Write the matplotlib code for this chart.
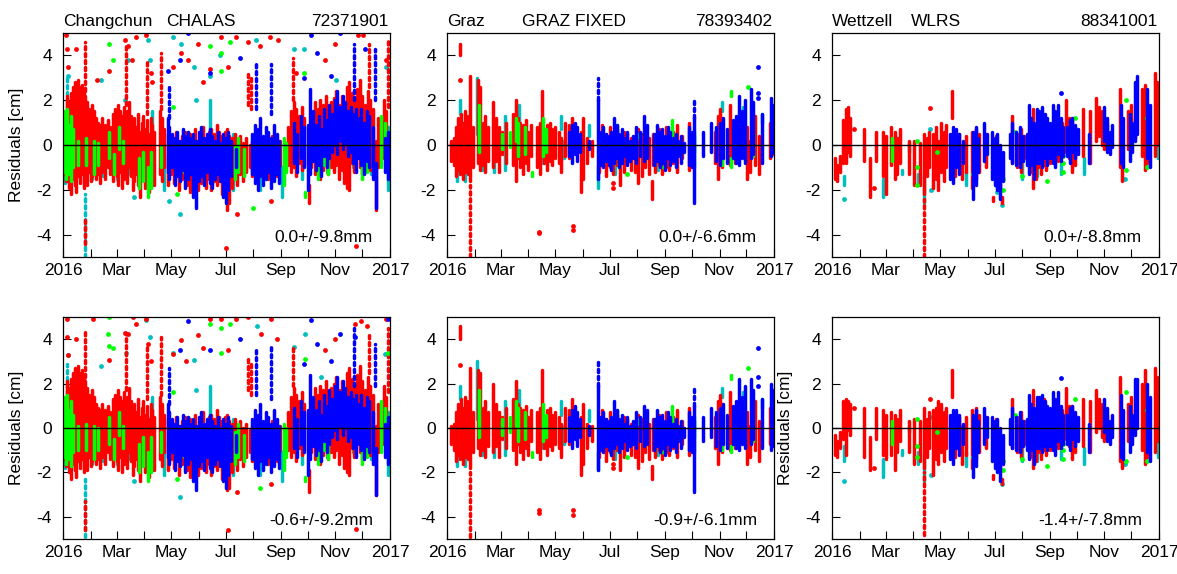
import matplotlib
matplotlib.use('Agg')
import matplotlib.pyplot as plt
from matplotlib.collections import LineCollection

plt.rcParams['font.family'] = ['Liberation Sans', 'DejaVu Sans']
plt.rcParams['axes.unicode_minus'] = False

# ---------------------------------------------------------------- labels
month_days = [0, 31, 60, 91, 121, 152, 182, 213, 244, 274, 305, 335, 366]
month_labels = ['2016', '', 'Mar', '', 'May', '', 'Jul', '', 'Sep', '', 'Nov', '', '2017']
y_ticks = [-4, -2, 0, 2, 4]
station_names = ['Changchun', 'Graz', 'Wettzell']
system_names = ['CHALAS', 'GRAZ FIXED', 'WLRS']
station_ids = ['72371901', '78393402', '88341001']
stats_top = ['0.0+/-9.8mm', '0.0+/-6.6mm', '0.0+/-8.8mm']
stats_bottom = ['-0.6+/-9.2mm', '-0.9+/-6.1mm', '-1.4+/-7.8mm']

# ---------------------------------------------------------------- data
# passes : (day of 2016, lowest residual [cm], highest residual [cm]) - dense passes
# sparse : (day, low, high) - thinly populated vertical streaks of points
# pts    : (day, residual [cm]) - isolated normal points

# ===== Changchun, top
chg_top_red = [(1,-1.3,1.2),(3,-1.6,0.8),(5,-1.2,2.2),(7,-1.9,1.9),(9,-2.2,2.3),(11,-1.5,2.6),(13,-1.8,2.8),(15,-2.1,2.5),(17,-1.4,2.9),(19,-1.7,2.6),(21,-1.3,2.7),(23,-1.9,2.4),(25,-1.5,2.2),(27,-1.8,1.9),(29,-1.2,1.6),(31,-1.6,1.4),(33,-1.4,1.8),(35,-1.1,1.5),(37,-1.5,1.2),(39,-1.3,1.0),(41,-1.7,0.9),(44,-1.2,1.2),(47,-1.5,0.9),(50,-1.0,1.1),(53,-1.3,0.8),(56,-1.6,1.4),(58,-1.1,1.6),(60,-1.4,1.2),(62,-1.8,1.8),(64,-1.2,1.5),(66,-1.9,1.3),(68,-1.5,1.7),(70,-1.3,1.1),(72,-1.7,1.5),(74,-1.0,1.9),(76,-1.4,1.3),(78,-2.0,0.9),(80,-1.6,1.2),(82,-1.3,0.8),(84,-1.8,1.4),(86,-2.3,0.6),(88,-1.5,1.0),(90,-1.2,1.3),(92,-1.9,0.7),(94,-1.4,1.1),(96,-2.1,0.5),(98,-1.6,1.2),(100,-1.2,0.9),(102,-1.8,0.6),(109,-1.3,1.5),(111,-1.6,1.2),(113,-1.0,0.7),(118,-1.8,0.5),(121,-1.3,0.2),(124,-1.7,0.3),(127,-1.2,0.6),(130,-2.0,0.2),(133,-1.5,0.4),(136,-1.3,0.6),(139,-1.8,0.1),(142,-2.1,0.5),(145,-1.6,0.3),(148,-1.4,0.7),(151,-2.0,0.2),(154,-1.7,0.5),(157,-1.3,0.8),(160,-1.9,0.3),(163,-1.5,0.6),(166,-2.0,0.7),(169,-1.6,0.5),(172,-1.8,0.9),(175,-1.4,0.6),(178,-2.2,0.4),(181,-1.7,0.6),(184,-2.9,0.7),(186,-2.6,0.4),(189,-1.9,0.3),(192,-1.5,0.5),(195,-1.8,0.2),(198,-1.3,0.4),(201,-1.6,0.1),(205,-1.2,0.3),(209,-1.0,0.0),(212,-1.4,0.2),(216,-0.8,0.0),(219,-1.3,0.2),(224,-1.0,0.3),(229,-1.5,0.0),(234,-1.2,0.4),(239,-1.4,0.1),(243,-0.9,0.2),(252,-0.9,0.8),(255,-1.2,1.5),(258,-1.0,1.9),(261,-1.4,1.6),(264,-0.8,1.3),(267,-1.1,1.7),(270,-0.9,1.2),(275,-2.6,-1.8),(278,-1.0,1.4),(282,-1.3,1.9),(285,-0.8,1.6),(288,-1.5,2.0),(291,-1.1,1.8),(294,-0.9,2.2),(297,-1.3,1.7),(300,-1.0,1.9),(303,-1.2,2.1),(306,-0.9,2.4),(309,-1.5,1.8),(312,-1.1,2.2),(315,-1.7,1.6),(318,-1.9,2.6),(320,-2.0,2.8),(323,-0.8,2.3),(326,-1.2,2.0),(329,-0.6,2.5),(332,-1.0,2.9),(335,-1.3,2.2),(338,-0.7,1.8),(341,-0.9,2.4),(344,-1.1,2.0),(347,-0.5,1.6),(350,-2.9,0.2),(353,-1.0,1.2),(359,-0.6,2.0),(362,-1.0,1.5)]
chg_top_red_sparse = [(25,2.4,4.6),(25,-4.4,-3.3),(70,1.8,4.4),(94,1.4,3.8),(110,1.6,4.1),(207,1.8,3.3),(210,1.6,3.1),(257,2.0,3.9),(342,2.6,4.5),(364,1.7,4.7)]
chg_top_red_pts = [(3,4.9),(4,4.3),(6,3.5),(15,4.3),(38,2.9),(52,3.3),(69,4.7),(73,4.4),(77,3.8),(82,4.8),(93,4.9),(99,3.2),(100,2.8),(123,3.5),(132,4.1),(140,3.8),(151,4.5),(157,2.8),(164,3.4),(177,4.8),(185,3.5),(194,4.8),(207,4.6),(220,4.4),(232,4.8),(241,4.7),(233,-2.5),(183,-4.6),(195,-3.1),(261,3.2),(293,3.8),(304,4.5),(330,4.9),(336,4.9),(328,-4.5),(362,3.8)]
chg_top_green = [(1,-1.2,1.5),(3,-1.5,1.2),(5,-0.8,1.6),(7,-1.3,0.9),(9,-1.6,1.3),(11,-1.0,0.7),(17,-0.9,0.2),(26,-0.9,0.3),(35,-1.3,0.2),(39,-0.9,0.1),(52,-0.6,0.6),(57,-1.3,-0.4),(63,-0.2,0.8),(67,-0.8,0.2),(85,-1.9,-0.6),(90,-1.6,-0.3),(95,-2.3,-1.0),(99,-1.9,-0.3),(110,-1.0,-0.1),(135,-1.2,-0.3),(176,-1.2,0.0),(192,-1.5,-0.1),(196,-1.2,0.3),(203,-1.4,-0.2),(247,-1.8,0.3),(250,-1.2,0.1),(271,-2.3,-2.1),(285,-1.5,0.2),(292,-0.9,0.5),(297,-1.3,0.0),(335,-1.5,-0.5),(340,-1.2,-0.6),(356,-1.0,1.3),(360,-0.5,1.0),(363,-0.8,0.6)]
chg_top_green_sparse = []
chg_top_green_pts = [(52,4.5),(56,3.8),(187,4.6),(177,4.1),(177,3.3),(164,4.4),(213,-2.8),(270,3.2),(123,1.7),(128,-2.2)]
chg_top_cyan = [(2,-1.7,1.0),(5,-1.6,1.0),(13,-1.8,-0.8),(23,-1.8,0.5),(33,-1.5,-0.5),(45,-1.4,0.0),(60,-1.5,-0.8),(75,-1.3,-0.3),(100,-1.8,1.5),(113,-2.0,-0.5),(140,-1.7,0.6),(165,-1.5,2.0),(190,-2.0,0.5),(220,-2.0,-0.8),(245,-2.3,-1.0),(268,-1.5,0.5),(295,-1.2,0.3),(325,-1.0,1.5),(345,-1.3,0.0),(364,-2.0,0.8)]
chg_top_cyan_sparse = [(5,1.0,3.0),(25,-5.0,-2.2)]
chg_top_cyan_pts = [(6,3.1),(69,2.0),(73,3.8),(95,4.7),(97,3.8),(123,4.8),(132,4.5),(147,3.5),(149,2.0),(164,3.1),(176,4.0),(216,4.7),(259,4.3),(270,4.3),(306,2.9),(362,3.5),(131,-3.1),(119,-2.5),(43,2.9),(80,-2.3)]
chg_top_blue = [(117,-1.2,1.2),(119,-1.5,0.8),(122,-1.0,0.5),(125,-1.8,0.3),(128,-1.4,0.6),(131,-1.6,0.2),(134,-1.1,0.7),(137,-1.9,0.4),(140,-1.5,0.6),(143,-1.3,0.3),(146,-2.3,0.5),(149,-2.8,0.2),(152,-1.6,0.6),(155,-1.4,0.8),(158,-1.8,0.3),(161,-1.2,0.5),(164,-1.7,0.7),(167,-1.9,0.4),(170,-1.5,0.2),(173,-1.3,0.6),(176,-1.6,0.1),(179,-2.3,0.5),(182,-2.6,0.3),(185,-2.0,0.6),(188,-1.4,0.2),(194,-1.0,-0.2),(212,-1.3,0.5),(215,-1.7,0.9),(218,-2.0,0.7),(221,-1.4,1.2),(224,-1.8,0.4),(227,-1.5,0.8),(230,-1.2,0.6),(233,-1.9,0.3),(236,-1.6,0.9),(239,-1.3,0.5),(242,-1.7,0.2),(258,-0.8,1.0),(262,-1.2,0.5),(266,-0.6,1.3),(270,-1.0,0.8),(274,-2.0,0.9),(277,-1.3,2.5),(280,-0.7,1.5),(283,-1.1,0.9),(286,-0.9,1.3),(289,-1.4,0.7),(292,-0.5,1.6),(295,-1.0,1.1),(298,-0.6,1.8),(301,-0.3,1.4),(304,0.0,2.0),(307,-0.4,2.4),(310,0.2,1.7),(313,-0.2,2.2),(316,0.1,1.9),(319,-0.5,1.5),(322,-0.3,1.7),(325,-0.8,1.4),(328,-1.2,1.6),(331,-0.6,1.2),(334,-0.9,1.6),(337,-1.3,1.0),(340,-0.7,1.5),(343,-1.0,1.3),(347,-1.5,0.8),(350,-2.8,-0.8),(360,-1.2,0.3),(364,-1.5,0.6)]
chg_top_blue_sparse = [(119,1.2,2.6),(216,1.6,3.6),(233,1.4,3.6),(326,2.0,4.5),(349,2.0,4.3)]
chg_top_blue_pts = [(118,3.3),(131,3.8),(140,5.0),(164,3.2),(198,3.9),(278,4.9),(284,4.1),(310,5.0),(338,4.3),(300,3.1),(270,3.0)]

# ===== Graz, top
grz_top_red = [(5,-0.7,0.2),(8,-0.9,0.3),(10,-1.4,0.8),(12,-1.1,1.2),(14,-1.3,0.6),(15,4.0,4.5),(16,-1.0,1.4),(18,-1.5,1.0),(20,-1.2,1.5),(22,-0.9,1.3),(24,-1.3,0.9),(26,-1.6,3.1),(29,-1.0,0.8),(35,-0.8,2.9),(37,-1.1,2.6),(40,-0.9,1.0),(43,-1.2,1.3),(46,-0.7,0.8),(52,-1.0,1.9),(55,-0.7,1.2),(58,-1.2,0.8),(62,-0.4,0.6),(66,-0.8,1.0),(74,-0.9,1.4),(77,-1.6,2.0),(79,-0.6,1.2),(82,-1.0,1.0),(85,-1.3,0.9),(88,-0.8,1.1),(91,-1.1,0.6),(94,-0.5,0.9),(101,-1.0,0.8),(104,-1.3,1.0),(106,1.0,2.4),(109,-0.8,0.6),(112,-1.1,0.9),(115,-0.7,1.0),(118,-0.9,0.7),(121,-0.6,0.8),(125,-0.8,0.6),(128,-1.2,0.3),(132,-0.5,1.0),(136,-0.6,0.9),(140,-0.4,1.2),(150,-2.1,0.6),(152,-1.5,1.2),(157,-0.8,0.3),(162,-0.5,0.2),(170,-1.2,0.6),(174,-0.9,0.9),(178,-1.4,0.5),(182,-1.0,0.8),(186,-1.3,0.4),(190,-0.9,0.7),(194,-1.8,0.3),(198,-1.2,0.6),(202,-0.8,0.5),(206,-1.1,0.3),(210,-1.2,0.4),(214,-1.7,0.7),(218,-1.4,0.5),(222,-1.0,0.6),(226,-1.3,0.3),(229,-2.4,-1.6),(231,-0.9,0.5),(233,-1.2,0.5),(237,-0.9,0.7),(241,-1.3,0.4),(245,-1.0,0.8),(249,-1.1,0.3),(253,-0.8,0.6),(257,-1.2,0.9),(263,-0.6,0.4),(271,-1.1,1.0),(274,-0.8,0.5),(300,-0.8,0.6),(303,-1.5,1.3),(305,-0.7,1.6),(308,-1.0,1.2),(317,-0.9,1.8),(322,-0.8,0.5),(327,-0.6,1.2),(336,-1.5,0.8),(339,-1.2,0.2),(345,-0.9,1.3),(349,-1.3,0.4),(362,-0.6,1.0),(364,-0.4,1.5)]
grz_top_red_sparse = [(26,-5.0,-1.8)]
grz_top_red_pts = [(15,2.9),(103,-3.9),(103,-3.95),(141,-3.6),(141,-3.8),(186,-1.7),(186,-1.9)]
grz_top_green = [(36,-0.3,1.8),(61,-0.2,0.5),(70,-0.1,0.6),(77,0.2,1.2),(80,-0.5,1.0),(87,-0.4,0.8),(95,-1.4,-1.2),(108,-0.5,1.2),(111,-0.3,0.7),(190,0.4,0.9),(192,-1.0,-0.6),(215,0.3,0.5),(252,0.3,1.1),(277,-0.3,0.6),(308,-0.9,-0.2),(318,2.2,2.4),(318,-1.0,-0.6),(342,-0.5,0.5)]
grz_top_green_sparse = []
grz_top_green_pts = [(201,-1.3),(243,-1.0),(337,2.6)]
grz_top_cyan = [(11,-1.6,-1.2),(14,1.4,2.0),(20,-1.6,-0.5),(34,0.5,3.0),(39,-1.1,-0.7),(53,-1.2,-0.6),(65,-1.1,1.3),(81,0.7,1.8),(84,-0.5,0.2),(107,-0.8,0.6),(112,-0.6,0.2),(128,0.7,1.3),(131,-0.6,0.2),(159,0.4,0.9),(169,-1.9,-1.0),(188,-1.3,-0.7),(236,-1.1,-0.5),(276,-1.0,0.4),(308,1.5,1.9),(331,1.1,1.7),(353,1.0,1.4)]
grz_top_cyan_sparse = []
grz_top_cyan_pts = []
grz_top_blue = [(137,-0.5,0.6),(140,-0.8,0.9),(143,-0.4,1.0),(146,-0.7,0.8),(149,-0.3,0.5),(159,-0.2,0.2),(169,-1.5,2.0),(172,-0.9,0.6),(175,-1.0,0.8),(178,-0.7,0.5),(181,-0.9,0.4),(184,-1.1,0.6),(187,-0.8,1.2),(190,-0.6,0.9),(193,-1.0,0.5),(196,-0.8,0.7),(199,-0.5,0.3),(202,-0.9,0.6),(205,-0.7,0.2),(208,-0.6,0.4),(212,-0.8,0.8),(216,-0.5,0.6),(220,-0.7,1.3),(224,-0.6,0.9),(232,-0.9,0.5),(235,-0.7,0.9),(238,-1.0,0.6),(241,-0.8,0.7),(244,-1.1,0.4),(247,-0.6,0.8),(250,-0.9,0.6),(253,-0.7,0.3),(256,-1.0,0.5),(259,-0.5,0.2),(262,-0.8,0.4),(265,-0.3,0.1),(271,-0.9,0.8),(274,-1.0,0.6),(277,-2.6,1.2),(286,-0.5,0.6),(296,-0.3,1.0),(301,-0.7,0.8),(305,-0.9,1.0),(309,-0.6,1.2),(313,-0.8,0.7),(320,-0.6,1.1),(324,-0.8,1.3),(327,-0.9,2.2),(330,-0.6,1.5),(333,-0.8,2.0),(340,-0.6,2.5),(343,-0.4,1.9),(353,-0.8,1.4),(363,-0.5,2.1),(365,-0.3,1.8)]
grz_top_blue_sparse = [(169,2.0,3.0),(277,1.2,2.1)]
grz_top_blue_pts = [(348,3.5),(348,2.3),(348,2.1)]

# ===== Wettzell, top
wtz_top_red = [(3,-1.5,-0.6),(6,-1.6,-0.9),(9,-1.2,-0.5),(12,-0.8,1.1),(16,-0.8,1.6),(18,-0.3,1.7),(20,-0.5,1.2),(36,-0.7,0.7),(43,-2.3,-0.6),(49,-0.7,0.6),(57,-1.4,0.6),(60,-2.2,0.4),(66,-0.9,0.8),(70,-1.5,0.6),(73,-1.3,0.3),(76,-0.8,0.7),(86,-1.3,0.2),(92,-1.8,0.2),(99,-1.8,0.1),(103,-2.2,0.5),(106,-1.4,0.3),(109,-1.0,0.6),(113,-1.9,0.5),(116,-1.5,0.8),(119,-2.0,0.2),(122,-1.2,1.0),(125,-1.6,0.6),(128,-1.0,0.9),(134,-1.3,0.5),(134,1.2,2.4),(138,-1.4,0.3),(142,-1.0,0.5),(146,-1.5,0.0),(150,-1.2,0.4),(157,-1.9,0.6),(161,-1.5,0.7),(165,-1.2,0.5),(172,-1.0,0.5),(180,-2.5,-2.3),(184,-1.5,0.4),(188,-2.0,-0.4),(190,-2.6,-2.3),(201,-0.8,1.3),(207,-1.0,0.5),(211,-1.2,0.7),(215,-0.6,0.4),(222,-1.2,1.0),(225,-1.9,1.6),(228,-1.5,0.8),(231,-1.0,1.2),(234,-1.3,0.9),(237,-0.9,1.4),(240,-1.1,0.6),(244,-0.8,0.7),(248,-0.6,1.0),(253,-0.7,0.9),(257,-0.5,1.0),(262,-0.3,2.0),(265,-0.6,1.2),(269,-1.2,1.2),(272,-0.9,0.8),(281,-0.5,1.6),(289,-0.8,1.5),(296,0.2,2.1),(299,0.4,1.7),(302,0.0,1.5),(305,-0.2,1.2),(308,0.3,1.0),(322,-1.0,2.5),(325,-1.6,0.8),(331,-0.2,1.5),(335,0.0,1.8),(339,0.3,1.2),(347,-0.5,2.5),(350,-1.1,2.7),(353,-0.8,1.0),(362,-0.5,3.2),(364,0.0,2.8)]
wtz_top_red_sparse = [(103,-5.0,-2.4)]
wtz_top_red_pts = [(110,1.65),(25,0.7),(47,-1.9)]
wtz_top_green = [(67,-0.7,0.3)]
wtz_top_green_sparse = []
wtz_top_green_pts = [(95,0.2),(95,-1.0),(95,-1.8),(117,-0.3),(158,-1.3),(184,-1.8),(191,-1.5),(191,-2.0),(205,0.6),(213,-1.4),(241,-1.6),(258,-0.8),(258,-1.2),(258,-0.5),(272,1.2),(329,2.0),(329,-1.1),(353,1.2),(353,-1.0)]
wtz_top_cyan = [(13,-1.8,-1.4),(57,-2.3,-1.5),(78,-1.3,-1.1),(86,-0.3,0.1),(96,-1.8,-1.3),(103,-2.6,-1.4),(150,-1.8,-1.2),(213,-1.5,-0.6),(229,-1.4,-1.0),(256,-1.3,-0.8),(282,-1.3,-0.6),(355,0.7,1.2),(365,-0.6,2.2)]
wtz_top_cyan_sparse = []
wtz_top_cyan_pts = [(13,-2.4),(110,0.7),(111,-2.0),(190,-2.7),(328,-1.5),(185,-2.1)]
wtz_top_blue = [(132,-1.5,0.5),(135,-1.7,0.8),(139,-1.0,0.7),(142,-1.3,0.5),(147,-0.8,0.2),(158,-2.4,0.6),(161,-1.8,0.8),(163,-1.2,0.3),(170,-0.7,1.0),(173,-0.4,0.5),(179,-1.5,0.6),(182,-1.8,0.3),(185,-2.0,0.5),(188,-2.4,0.0),(191,-1.6,-0.3),(199,-0.6,0.5),(202,-0.8,1.0),(206,-0.9,0.6),(210,-1.0,0.8),(214,-0.7,0.4),(218,-0.9,0.5),(220,-1.3,1.8),(223,-0.9,1.2),(226,-1.5,1.0),(229,-0.8,1.6),(232,-0.8,1.5),(235,-1.0,1.7),(238,-0.6,1.4),(241,-0.9,1.2),(244,-0.6,1.0),(247,-0.8,1.8),(250,-1.0,1.5),(253,-0.4,1.8),(256,-0.7,1.2),(259,-0.5,0.8),(263,-0.5,0.8),(266,-0.8,1.1),(269,-0.3,1.2),(272,-0.6,0.9),(275,-0.4,0.7),(288,-0.8,0.5),(305,0.2,1.7),(308,-0.3,1.2),(311,-0.4,0.6),(313,-0.1,0.9),(323,-0.8,1.8),(326,-1.0,1.2),(333,-0.7,1.4),(336,-0.3,1.0),(339,0.2,2.8),(341,0.5,3.1),(353,-0.6,2.5),(356,-1.0,1.8)]
wtz_top_blue_sparse = []
wtz_top_blue_pts = [(256,2.3)]

# ===== Changchun, bottom
chg_bot_red = [(1,-1.4,1.1),(3,-1.7,0.8),(5,-1.3,2.1),(7,-2.0,1.8),(9,-2.3,2.2),(11,-1.6,2.5),(13,-1.9,2.7),(15,-2.2,2.4),(17,-1.5,2.8),(19,-1.8,2.5),(21,-1.4,2.6),(23,-2.0,2.3),(25,-1.6,2.1),(27,-1.9,1.8),(29,-1.3,1.5),(31,-1.7,1.3),(33,-1.5,1.7),(35,-1.2,1.4),(37,-1.6,1.1),(39,-1.4,0.9),(41,-1.8,0.8),(44,-1.3,1.1),(47,-1.6,0.8),(50,-1.1,1.0),(53,-1.4,0.7),(56,-1.7,1.3),(58,-1.2,1.5),(60,-1.5,1.1),(62,-1.9,1.7),(64,-1.3,1.4),(66,-2.0,1.2),(68,-1.6,1.6),(70,-1.4,1.0),(72,-1.8,1.4),(74,-1.1,1.8),(76,-1.5,1.2),(78,-2.1,0.8),(80,-1.7,1.1),(82,-1.4,0.7),(84,-1.9,1.3),(86,-2.4,0.5),(88,-1.6,0.9),(90,-1.3,1.2),(92,-2.0,0.6),(94,-1.5,1.0),(96,-2.2,0.4),(98,-1.7,1.1),(100,-1.3,0.8),(102,-1.9,0.5),(109,-1.4,1.4),(111,-1.7,1.1),(113,-1.1,0.6),(118,-1.9,0.4),(121,-1.4,0.1),(124,-1.8,0.2),(127,-1.3,0.5),(130,-2.1,0.1),(133,-1.6,0.3),(136,-1.4,0.5),(139,-1.9,0.0),(142,-2.2,0.4),(145,-1.7,0.2),(148,-1.5,0.6),(151,-2.1,0.1),(154,-1.8,0.4),(157,-1.4,0.7),(160,-2.0,0.2),(163,-1.6,0.5),(166,-2.1,0.6),(169,-1.7,0.4),(172,-1.9,0.8),(175,-1.5,0.5),(178,-2.3,0.3),(181,-1.8,0.5),(184,-2.8,0.6),(186,-2.7,0.3),(189,-2.0,0.2),(192,-1.6,0.4),(195,-1.9,0.1),(198,-1.4,0.3),(201,-1.7,0.0),(205,-1.3,0.2),(209,-1.1,-0.1),(212,-1.5,0.1),(216,-0.9,-0.1),(219,-1.4,0.1),(224,-1.1,0.2),(229,-1.6,-0.1),(234,-1.3,0.3),(239,-1.5,0.0),(243,-1.0,0.1),(252,-1.0,0.7),(255,-1.3,1.4),(258,-1.1,1.8),(261,-1.5,1.5),(264,-0.9,1.2),(267,-1.2,1.6),(270,-1.0,1.1),(275,-2.9,-1.9),(278,-1.1,1.3),(282,-1.4,1.8),(285,-0.9,1.5),(288,-1.6,1.9),(291,-1.2,1.7),(294,-1.0,2.1),(297,-1.4,1.6),(300,-1.1,1.8),(303,-1.3,2.0),(306,-1.0,2.3),(309,-1.6,1.7),(312,-1.2,2.1),(315,-1.8,1.5),(318,-2.0,2.5),(320,-2.1,2.7),(323,-0.9,2.2),(326,-1.3,1.9),(329,-0.7,2.4),(332,-1.1,2.8),(335,-1.4,2.1),(338,-0.8,1.7),(341,-1.0,2.3),(344,-1.2,1.9),(347,-0.6,1.5),(350,-3.0,0.1),(353,-1.1,1.1),(359,-0.7,1.9),(362,-1.1,1.4)]
chg_bot_red_sparse = [(25,2.3,4.4),(25,-4.6,-3.3),(70,1.7,4.3),(94,1.3,3.8),(110,1.5,4.1),(207,1.7,3.2),(210,1.5,3.0),(257,1.9,3.6),(342,2.5,4.3),(364,1.6,4.5)]
chg_bot_red_pts = [(4,4.9),(4,4.1),(6,3.3),(15,4.0),(34,4.9),(52,3.05),(69,4.3),(73,4.25),(78,5.0),(82,4.7),(93,4.9),(95,3.8),(99,3.0),(123,3.35),(132,3.95),(138,3.0),(151,4.2),(157,3.6),(164,4.9),(177,4.9),(185,3.5),(194,4.9),(207,5.0),(222,4.25),(233,4.9),(239,4.0),(233,-2.5),(185,-4.6),(195,-2.9),(293,3.5),(304,4.0),(327,4.7),(334,4.8),(340,4.6),(328,-4.55),(362,4.9)]
chg_bot_green = [(1,-1.3,1.4),(3,-1.6,1.1),(5,-0.9,1.5),(7,-1.4,0.8),(9,-1.7,1.2),(11,-1.1,0.6),(17,-1.0,0.1),(26,-1.0,0.2),(35,-1.4,0.1),(39,-1.0,0.0),(52,-0.7,0.5),(57,-1.4,-0.5),(63,-0.3,0.7),(67,-0.9,0.1),(85,-2.0,-0.7),(90,-1.7,-0.4),(95,-2.4,-1.1),(99,-2.0,-0.4),(110,-1.1,-0.2),(135,-1.3,-0.4),(176,-1.3,-0.1),(192,-1.6,-0.2),(196,-1.3,0.2),(203,-1.5,-0.3),(247,-1.9,0.2),(250,-1.3,0.0),(271,-2.4,-2.2),(285,-1.6,0.1),(292,-1.0,0.4),(297,-1.4,-0.1),(335,-1.6,-0.6),(340,-1.3,-0.7),(356,-1.1,1.2),(360,-0.6,0.9),(363,-0.9,0.5)]
chg_bot_green_sparse = []
chg_bot_green_pts = [(50,4.25),(52,5.0),(52,3.7),(56,3.6),(164,4.7),(177,4.5),(177,3.4),(187,4.7),(220,-2.7),(271,3.1),(364,3.4),(123,1.6),(128,-2.3)]
chg_bot_cyan = [(2,-1.8,0.9),(5,-1.7,0.9),(13,-1.9,-0.9),(23,-1.9,0.4),(33,-1.6,-0.6),(45,-1.5,-0.1),(60,-1.6,-0.9),(75,-1.4,-0.4),(100,-1.9,1.4),(113,-2.1,-0.6),(140,-1.8,0.5),(165,-1.6,1.9),(190,-2.1,0.4),(220,-2.1,-0.9),(245,-2.4,-1.1),(268,-1.6,0.4),(295,-1.3,0.2),(325,-1.1,1.4),(345,-1.4,-0.1),(364,-2.1,0.7)]
chg_bot_cyan_sparse = [(5,0.9,2.9),(25,-4.9,-2.3)]
chg_bot_cyan_pts = [(6,3.3),(71,3.4),(93,4.85),(97,4.1),(123,3.4),(131,-3.1),(149,1.7),(147,3.05),(217,4.6),(259,3.65),(271,4.25),(289,2.3),(360,3.35),(43,2.8),(80,-2.4)]
chg_bot_blue = [(117,-1.3,1.1),(119,-1.6,0.7),(122,-1.1,0.4),(125,-1.9,0.2),(128,-1.5,0.5),(131,-1.7,0.1),(134,-1.2,0.6),(137,-2.0,0.3),(140,-1.6,0.5),(143,-1.4,0.2),(146,-2.4,0.4),(149,-2.8,0.1),(152,-1.7,0.5),(155,-1.5,0.7),(158,-1.9,0.2),(161,-1.3,0.4),(164,-1.8,0.6),(167,-2.0,0.3),(170,-1.6,0.1),(173,-1.4,0.5),(176,-1.7,0.0),(179,-2.4,0.4),(182,-2.7,0.2),(185,-2.1,0.5),(188,-1.5,0.1),(194,-1.1,-0.3),(212,-1.4,0.4),(215,-1.8,0.8),(218,-2.1,0.6),(221,-1.5,1.1),(224,-1.9,0.3),(227,-1.6,0.7),(230,-1.3,0.5),(233,-2.0,0.2),(236,-1.7,0.8),(239,-1.4,0.4),(242,-1.8,0.1),(258,-0.9,0.9),(262,-1.3,0.4),(266,-0.7,1.2),(270,-1.1,0.7),(274,-2.1,0.8),(277,-1.4,2.4),(280,-0.8,1.4),(283,-1.2,0.8),(286,-1.0,1.2),(289,-1.5,0.6),(292,-0.6,1.5),(295,-1.1,1.0),(298,-0.7,1.7),(301,-0.4,1.3),(304,-0.1,1.9),(307,-0.5,2.3),(310,0.1,1.6),(313,-0.3,2.1),(316,0.0,1.8),(319,-0.6,1.4),(322,-0.4,1.6),(325,-0.9,1.3),(328,-1.3,1.5),(331,-0.7,1.1),(334,-1.0,1.5),(337,-1.4,0.9),(340,-0.8,1.4),(343,-1.1,1.2),(347,-1.6,0.7),(350,-3.0,-0.9),(360,-1.3,0.2),(364,-1.6,0.5)]
chg_bot_blue_sparse = [(119,1.1,2.7),(216,1.5,3.6),(233,1.3,3.65),(326,1.9,4.5),(349,1.9,3.8)]
chg_bot_blue_pts = [(131,3.5),(140,4.8),(164,3.5),(198,4.0),(278,4.85),(284,3.8),(310,4.25),(327,4.1),(364,4.9),(300,3.0),(270,2.9)]

# ===== Graz, bottom
grz_bot_red = [(5,-0.7,0.1),(8,-1.0,0.2),(10,-1.5,0.7),(12,-1.2,1.1),(14,-1.4,0.5),(15,4.0,4.6),(16,-1.1,1.3),(18,-1.6,0.9),(20,-1.3,1.4),(22,-1.0,1.2),(24,-1.4,0.8),(26,-1.8,2.7),(29,-1.1,0.7),(35,-0.9,2.6),(37,-1.2,2.5),(40,-1.0,0.9),(43,-1.3,1.2),(46,-0.8,0.7),(52,-1.1,2.0),(55,-0.8,1.1),(58,-1.3,0.7),(62,-0.5,0.5),(66,-0.9,0.9),(74,-1.0,1.3),(77,-1.6,2.1),(79,-0.7,1.1),(82,-1.1,0.9),(85,-1.4,0.8),(88,-0.9,1.0),(91,-1.2,0.5),(94,-0.6,0.8),(101,-1.1,0.7),(104,-1.4,0.9),(106,0.9,2.6),(109,-0.9,0.5),(112,-1.2,0.8),(115,-0.8,0.9),(118,-1.0,0.6),(121,-0.7,0.7),(125,-0.9,0.5),(128,-1.3,0.2),(132,-0.6,0.9),(136,-0.7,0.8),(140,-0.5,1.3),(150,-2.1,0.5),(152,-1.6,1.1),(157,-0.9,0.2),(162,-0.6,0.1),(170,-1.3,0.5),(174,-1.0,0.8),(178,-1.5,0.4),(182,-1.1,0.7),(186,-1.4,0.3),(190,-1.0,0.6),(194,-1.9,0.2),(198,-1.3,0.5),(202,-0.9,0.4),(206,-1.2,0.2),(210,-1.3,0.3),(214,-1.8,0.6),(218,-1.5,0.4),(222,-1.1,0.5),(226,-1.4,0.2),(229,-2.3,-1.7),(231,-1.0,0.4),(233,-1.3,0.4),(237,-1.0,0.6),(241,-1.4,0.3),(245,-1.1,0.7),(249,-1.2,0.2),(253,-0.9,0.5),(257,-1.3,0.8),(263,-0.7,0.3),(271,-1.2,0.9),(274,-0.9,0.4),(300,-0.9,0.5),(303,-1.6,1.2),(305,-0.8,1.5),(308,-1.1,1.1),(317,-1.0,1.6),(322,-0.9,0.4),(327,-0.7,1.1),(336,-1.6,0.7),(339,-1.3,0.1),(345,-1.0,1.2),(349,-1.5,0.3),(362,-0.7,0.9),(364,-0.5,1.4)]
grz_bot_red_sparse = [(26,-4.9,-2.0)]
grz_bot_red_pts = [(15,2.85),(103,-3.7),(103,-3.85),(141,-3.7),(141,-3.9),(186,-1.6),(186,-1.8)]
grz_bot_green = [(36,-0.4,1.7),(61,-0.3,0.4),(70,-0.2,0.5),(77,0.1,1.2),(80,-0.6,0.9),(87,-0.5,0.7),(95,-1.3,-1.1),(108,-0.6,1.1),(111,-0.4,0.6),(190,0.3,0.8),(192,-1.1,-0.7),(215,0.2,0.4),(252,0.2,1.0),(277,-0.4,0.5),(308,-1.0,-0.3),(318,2.2,2.4),(318,-1.1,-0.8),(342,-0.6,0.4)]
grz_bot_green_sparse = []
grz_bot_green_pts = [(201,-1.3),(243,-1.1),(337,2.7)]
grz_bot_cyan = [(11,-1.7,-1.3),(14,1.3,1.9),(20,-1.7,-0.6),(34,0.4,3.0),(39,-1.2,-0.8),(53,-1.3,-0.7),(65,-1.2,1.2),(81,0.6,1.7),(84,-0.6,0.1),(107,-0.9,0.5),(112,-0.7,0.1),(128,0.6,1.2),(131,-0.7,0.1),(159,0.3,0.8),(169,-1.9,-1.1),(188,-1.4,-0.8),(236,-1.2,-0.6),(276,-1.1,0.3),(308,1.4,1.8),(331,1.0,1.6),(353,0.9,1.3)]
grz_bot_cyan_sparse = []
grz_bot_cyan_pts = []
grz_bot_blue = [(137,-0.6,0.5),(140,-0.9,0.8),(143,-0.5,1.0),(146,-0.8,0.7),(149,-0.4,0.4),(159,-0.3,0.1),(169,-1.9,1.9),(172,-1.0,0.5),(175,-1.1,0.7),(178,-0.8,0.4),(181,-1.0,0.3),(184,-1.2,0.5),(187,-0.9,1.2),(190,-0.7,0.8),(193,-1.1,0.4),(196,-0.9,0.6),(199,-0.6,0.2),(202,-1.0,0.5),(205,-0.8,0.1),(208,-0.7,0.3),(212,-0.9,0.7),(216,-0.6,0.5),(220,-0.8,1.0),(224,-0.7,0.8),(232,-1.0,0.4),(235,-0.8,0.8),(238,-1.1,0.5),(241,-0.9,0.6),(244,-1.2,0.3),(247,-0.7,0.7),(250,-1.0,0.5),(253,-0.8,0.2),(256,-1.1,0.4),(259,-0.6,0.1),(262,-0.9,0.3),(265,-0.4,0.0),(271,-1.0,0.7),(274,-1.1,0.5),(277,-2.9,1.0),(286,-0.6,0.5),(296,-0.4,0.9),(301,-0.8,0.7),(305,-1.0,0.9),(309,-0.7,1.1),(313,-0.9,0.6),(320,-0.7,1.0),(324,-0.9,1.2),(327,-1.0,2.2),(330,-0.7,1.4),(333,-0.9,1.9),(340,-0.7,2.2),(343,-0.5,1.7),(353,-0.9,1.3),(363,-1.0,2.0),(365,-0.8,1.7)]
grz_bot_blue_sparse = [(169,1.9,3.1),(277,1.0,1.8)]
grz_bot_blue_pts = [(348,3.6),(348,2.3),(348,1.9)]

# ===== Wettzell, bottom
wtz_bot_red = [(3,-1.2,-0.3),(6,-1.3,-0.6),(9,-0.9,-0.2),(12,-0.5,1.2),(16,-1.2,1.3),(18,-0.1,1.2),(20,-0.3,1.1),(36,-1.3,0.9),(43,-1.9,-0.4),(49,-0.5,0.9),(57,-1.2,0.8),(60,-1.4,0.6),(66,-1.2,0.7),(70,-1.9,0.6),(73,-1.1,0.4),(76,-0.6,0.8),(86,-1.1,0.3),(92,-1.6,0.4),(99,-1.5,0.3),(103,-1.8,0.9),(106,-1.3,0.4),(109,-0.9,0.7),(113,-2.1,0.8),(116,-1.4,0.9),(119,-1.6,1.2),(122,-1.1,1.1),(125,-1.5,0.7),(128,-0.9,0.9),(134,-1.2,0.6),(134,1.4,2.6),(138,-1.3,0.4),(142,-1.0,0.5),(146,-1.6,0.1),(150,-1.2,0.5),(157,-1.8,0.8),(161,-1.4,0.9),(165,-1.1,0.6),(172,-0.9,0.5),(180,-2.3,-2.1),(184,-1.5,0.4),(188,-2.0,-0.5),(190,-2.5,-2.3),(201,-0.9,1.3),(207,-1.1,0.5),(211,-1.3,0.7),(215,-0.7,0.3),(222,-1.3,0.9),(225,-1.8,1.7),(228,-1.5,0.7),(231,-1.1,1.1),(234,-1.4,0.8),(237,-1.0,1.3),(240,-1.2,0.5),(244,-1.0,0.6),(248,-0.8,0.8),(253,-0.9,0.7),(257,-0.7,0.8),(262,-0.5,1.8),(265,-0.8,1.0),(269,-1.4,1.0),(272,-1.1,0.6),(281,-0.8,1.3),(289,-1.1,1.2),(296,-0.2,1.7),(299,0.0,1.3),(302,-0.4,1.1),(305,-0.6,0.8),(308,-0.1,0.6),(322,-1.5,2.3),(325,-1.8,0.4),(331,-0.6,1.1),(335,-0.4,1.4),(339,-0.1,0.8),(347,-1.0,2.0),(350,-1.6,2.6),(353,-1.3,0.6),(362,-1.1,2.7),(364,-0.6,2.3)]
wtz_bot_red_sparse = [(103,-4.8,-2.0)]
wtz_bot_red_pts = [(110,1.3),(25,0.9),(47,-1.8)]
wtz_bot_green = [(67,-0.7,0.3)]
wtz_bot_green_sparse = []
wtz_bot_green_pts = [(95,0.4),(95,-0.8),(95,-1.3),(117,-0.2),(158,-1.3),(184,-1.7),(191,-1.5),(191,-1.9),(205,0.6),(213,-1.4),(241,-1.7),(258,-1.0),(258,-1.4),(258,-0.7),(272,1.3),(329,1.6),(329,-1.5),(353,0.8),(353,-1.5)]
wtz_bot_cyan = [(13,-1.5,-0.8),(57,-2.2,-1.4),(78,-1.2,-1.0),(86,-0.2,0.1),(96,-1.6,-1.1),(103,-2.4,-1.2),(150,-1.7,-1.1),(213,-1.5,-0.6),(229,-1.5,-1.1),(256,-1.4,-0.9),(282,-1.6,-0.9),(355,0.4,0.9),(365,-1.3,1.6)]
wtz_bot_cyan_sparse = []
wtz_bot_cyan_pts = [(13,-2.4),(110,0.5),(111,-2.1),(190,-2.5),(328,-1.6)]
wtz_bot_blue = [(132,-1.4,0.6),(135,-1.6,0.8),(139,-0.9,0.8),(142,-1.2,0.6),(147,-0.7,0.2),(158,-2.2,0.6),(161,-1.7,0.8),(163,-1.1,0.3),(170,-0.7,0.9),(173,-0.4,0.5),(179,-1.5,0.5),(182,-1.8,0.3),(185,-2.0,0.4),(188,-2.4,0.0),(191,-1.6,-0.3),(199,-0.7,0.4),(202,-0.9,0.9),(206,-1.0,0.5),(210,-1.1,0.7),(214,-0.8,0.3),(218,-1.0,0.4),(220,-1.4,1.5),(223,-1.0,1.1),(226,-1.6,0.9),(229,-0.9,1.4),(232,-0.9,1.4),(235,-1.1,1.5),(238,-0.8,1.2),(241,-1.0,1.0),(244,-0.8,0.9),(247,-1.0,1.6),(250,-1.2,1.3),(253,-0.6,1.6),(256,-0.9,1.0),(259,-0.7,0.6),(263,-0.7,0.6),(266,-1.0,0.9),(269,-0.5,1.0),(272,-0.8,0.7),(275,-0.6,0.5),(288,-1.1,0.2),(305,-0.2,1.3),(308,-0.6,0.9),(311,-0.7,0.3),(313,-0.4,0.6),(323,-1.3,1.5),(326,-1.4,0.8),(333,-1.1,1.0),(336,-0.7,0.6),(339,-0.3,2.2),(341,0.0,2.2),(353,-1.1,2.0),(356,-1.5,1.4)]
wtz_bot_blue_sparse = []
wtz_bot_blue_pts = [(256,2.25)]

colors = {'red': '#ff0000', 'green': '#00ff00', 'cyan': '#00bfbf', 'blue': '#0000ff'}
draw_order = ['cyan', 'red', 'green', 'blue']


def panel(red, red_s, red_p, green, green_s, green_p, cyan, cyan_s, cyan_p, blue, blue_s, blue_p):
    return {'red': (red, red_s, red_p), 'green': (green, green_s, green_p),
            'cyan': (cyan, cyan_s, cyan_p), 'blue': (blue, blue_s, blue_p)}


panels = [
    [panel(chg_top_red, chg_top_red_sparse, chg_top_red_pts, chg_top_green, chg_top_green_sparse, chg_top_green_pts,
           chg_top_cyan, chg_top_cyan_sparse, chg_top_cyan_pts, chg_top_blue, chg_top_blue_sparse, chg_top_blue_pts),
     panel(grz_top_red, grz_top_red_sparse, grz_top_red_pts, grz_top_green, grz_top_green_sparse, grz_top_green_pts,
           grz_top_cyan, grz_top_cyan_sparse, grz_top_cyan_pts, grz_top_blue, grz_top_blue_sparse, grz_top_blue_pts),
     panel(wtz_top_red, wtz_top_red_sparse, wtz_top_red_pts, wtz_top_green, wtz_top_green_sparse, wtz_top_green_pts,
           wtz_top_cyan, wtz_top_cyan_sparse, wtz_top_cyan_pts, wtz_top_blue, wtz_top_blue_sparse, wtz_top_blue_pts)],
    [panel(chg_bot_red, chg_bot_red_sparse, chg_bot_red_pts, chg_bot_green, chg_bot_green_sparse, chg_bot_green_pts,
           chg_bot_cyan, chg_bot_cyan_sparse, chg_bot_cyan_pts, chg_bot_blue, chg_bot_blue_sparse, chg_bot_blue_pts),
     panel(grz_bot_red, grz_bot_red_sparse, grz_bot_red_pts, grz_bot_green, grz_bot_green_sparse, grz_bot_green_pts,
           grz_bot_cyan, grz_bot_cyan_sparse, grz_bot_cyan_pts, grz_bot_blue, grz_bot_blue_sparse, grz_bot_blue_pts),
     panel(wtz_bot_red, wtz_bot_red_sparse, wtz_bot_red_pts, wtz_bot_green, wtz_bot_green_sparse, wtz_bot_green_pts,
           wtz_bot_cyan, wtz_bot_cyan_sparse, wtz_bot_cyan_pts, wtz_bot_blue, wtz_bot_blue_sparse, wtz_bot_blue_pts)],
]

# ---------------------------------------------------------------- layout
W, H = 1177, 574
fig = plt.figure(figsize=(W / 100, H / 100), dpi=100)

col_left_px = [63, 447, 832]
col_width_px = 327
row_top_px = [33, 317]
row_height_px = [224, 222]
title_offset_px = [103, 75, 79]
show_ylabel = [[True, False, False], [True, False, True]]
stats = [stats_top, stats_bottom]

FS = 12.5
LW = 2.5
for r in range(2):
    for c in range(3):
        left = col_left_px[c] / W
        bottom = 1 - (row_top_px[r] + row_height_px[r]) / H
        ax = fig.add_axes([left, bottom, col_width_px / W, row_height_px[r] / H])
        data = panels[r][c]

        for k, name in enumerate(draw_order):
            passes, sp, pts = data[name]
            col = colors[name]
            z = 2 + 0.1 * k
            if sp:
                ax.add_collection(LineCollection([[(d, lo), (d, hi)] for d, lo, hi in sp],
                                                 colors=col, linewidths=LW,
                                                 linestyles=[(0, (0.9, 1.1))], capstyle='round',
                                                 zorder=z))
            if passes:
                ax.add_collection(LineCollection([[(d, lo), (d, hi)] for d, lo, hi in passes],
                                                 colors=col, linewidths=LW,
                                                 capstyle='round', zorder=z))
            if pts:
                ax.scatter([p[0] for p in pts], [p[1] for p in pts], s=12, c=col,
                           marker='o', lw=0, zorder=z)

        ax.axhline(0, color='black', lw=1.0, zorder=3)
        ax.set_xlim(0, 366)
        ax.set_ylim(-5, 5)
        ax.set_xticks(month_days)
        ax.set_xticklabels(month_labels)
        ax.set_yticks(y_ticks)
        ax.set_yticklabels([str(v) for v in y_ticks])
        ax.tick_params(direction='in', length=6, width=0.8, labelsize=FS, colors='black')
        ax.tick_params(axis='x', pad=4)
        ax.tick_params(axis='y', pad=8)
        for s in ax.spines.values():
            s.set_linewidth(0.9)
            s.set_color('black')
        if show_ylabel[r][c]:
            ax.set_ylabel('Residuals [cm]', fontsize=FS)
            ax.yaxis.set_label_coords(-0.12, 0.5)
        ax.text(0.948, -4.15, stats[r][c], transform=ax.get_yaxis_transform(), fontsize=FS,
                ha='right', va='center')
        if r == 0:
            ya = 1 + 6.6 / row_height_px[r]
            ax.text(0.0, ya, station_names[c], transform=ax.transAxes, fontsize=FS,
                    ha='left', va='baseline')
            ax.text(title_offset_px[c] / col_width_px, ya, system_names[c],
                    transform=ax.transAxes, fontsize=FS, ha='left', va='baseline')
            ax.text(0.995, ya, station_ids[c], transform=ax.transAxes, fontsize=FS,
                    ha='right', va='baseline')

fig.savefig('out.png', dpi=100)
